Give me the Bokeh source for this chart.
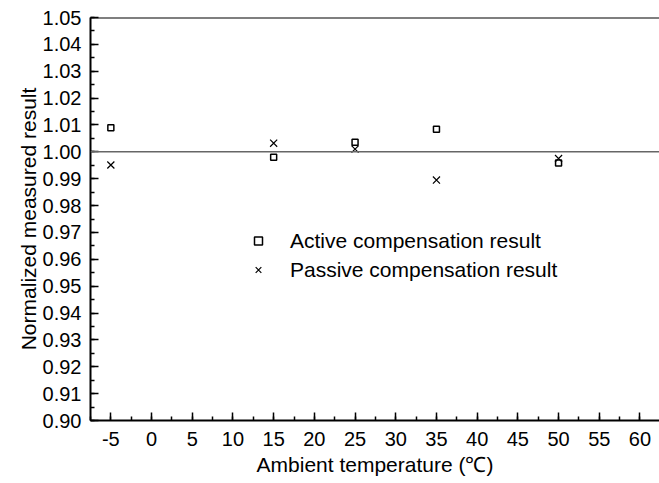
from bokeh.plotting import figure
from bokeh.models import Range1d, Span, SingleIntervalTicker, PrintfTickFormatter, Legend, LegendItem
from bokeh.embed import file_html
from bokeh.resources import INLINE

# Data
temperatures = [-5, 15, 25, 35, 50]
active = [1.009, 0.998, 1.0036, 1.0084, 0.9958]
passive = [0.9951, 1.0032, 1.0010, 0.9895, 0.9975]

FONT = "Liberation Sans"

p = figure(width=659, height=480, output_backend="svg", toolbar_location=None,
           x_range=Range1d(-7.5, 62.4), y_range=Range1d(0.90, 1.05),
           min_border_left=90, min_border_right=0, min_border_top=17, min_border_bottom=60)
p.outline_line_color = None
p.grid.visible = False
p.background_fill_color = "white"

# top border line
p.add_layout(Span(location=1.05, dimension="width", line_color="black", line_width=2))
# reference line at 1.00
p.add_layout(Span(location=1.00, dimension="width", line_color="#666666", line_width=1.5))

r1 = p.scatter(temperatures, active, marker="square", size=6, fill_color="white",
               line_color="black", line_width=1.5)
r2 = p.scatter(temperatures, passive, marker="x", size=10, line_color="black", line_width=1.2)

for ax in (p.xaxis[0], p.yaxis[0]):
    ax.axis_line_width = 2
    ax.axis_line_color = "black"
    ax.major_tick_in = 8
    ax.major_tick_out = 0
    ax.minor_tick_in = 4
    ax.minor_tick_out = 0
    ax.major_tick_line_width = 1.5
    ax.minor_tick_line_width = 1.5
    ax.major_label_text_font = FONT
    ax.major_label_text_font_size = "20px"
    ax.major_label_text_color = "black"
    ax.axis_label_text_font = FONT
    ax.axis_label_text_font_size = "21px"
    ax.axis_label_text_font_style = "normal"
    ax.axis_label_text_color = "black"

p.xaxis.ticker = SingleIntervalTicker(interval=5, num_minor_ticks=2)
p.yaxis.ticker = SingleIntervalTicker(interval=0.01, num_minor_ticks=2)
p.xaxis.formatter = PrintfTickFormatter(format="%d")
p.yaxis.formatter = PrintfTickFormatter(format="%.2f")
p.xaxis.axis_label = "Ambient temperature (℃)"
p.yaxis.axis_label = "Normalized measured result"
p.xaxis.major_label_standoff = 11
p.yaxis.major_label_standoff = 9
p.xaxis.axis_label_standoff = 4
p.yaxis.axis_label_standoff = 0

legend = Legend(items=[LegendItem(label="Active compensation result", renderers=[r1]),
                       LegendItem(label="Passive compensation result", renderers=[r2])],
                location=(158, 136))
legend.border_line_color = None
legend.background_fill_alpha = 0
legend.padding = 0
legend.margin = 0
legend.spacing = 0
legend.glyph_width = 20
legend.glyph_height = 29
legend.label_height = 29
legend.label_standoff = 22
legend.label_text_font = FONT
legend.label_text_font_size = "21px"
legend.label_text_color = "black"
p.add_layout(legend, "center")

open("out.html", "w").write(file_html(p, INLINE))
